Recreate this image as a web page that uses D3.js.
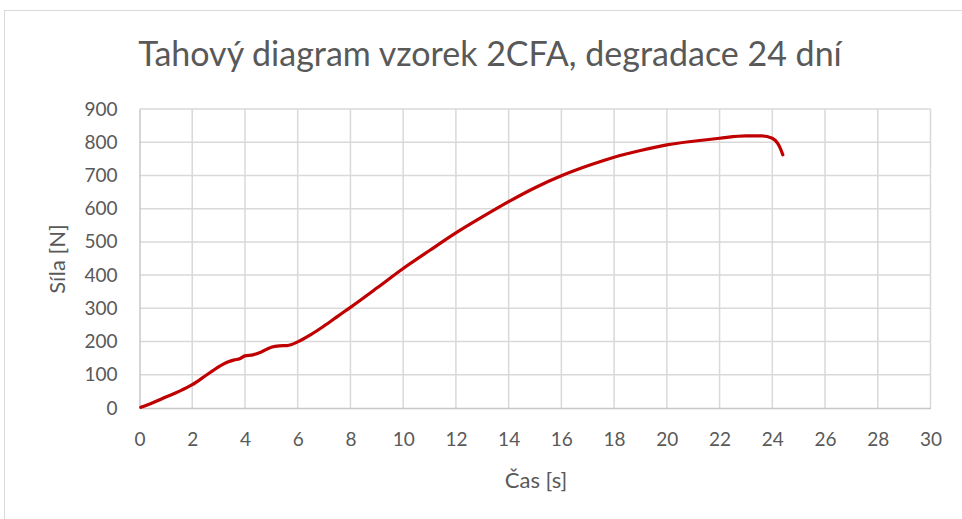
<!DOCTYPE html>
<html>
<head>
<meta charset="utf-8">
<script src="https://cdn.jsdelivr.net/npm/d3@7"></script>
<style>
  html, body { margin: 0; padding: 0; background: #fff; }
  svg { display: block; }
  text { font-family: Lato, "Open Sans", sans-serif; fill: #595959; }
</style>
</head>
<body>
<svg id="chart" width="962" height="519"></svg>
<script>
// Tensile test record: time [s] vs. force [N]
const time = [0.05, 0.5, 1, 1.5, 2, 2.5, 3, 3.3, 3.6, 3.8, 4, 4.3, 4.6, 5, 5.3, 5.6, 6, 6.5, 7, 7.5, 8, 9, 10, 11, 12, 13, 14, 15, 16, 17, 18, 19, 20, 21, 22, 23, 23.6, 24, 24.2, 24.3, 24.4];
const force = [2, 16, 33, 50, 70, 97, 124, 137, 145, 148, 157, 160, 168, 183, 187, 188, 199, 221, 247, 275, 303, 361, 420, 474, 527, 575, 621, 663, 699, 729, 755, 775, 792, 803, 812, 819, 819, 812, 797, 782, 762];
const xTicks = d3.range(0, 31, 2);
const yTicks = d3.range(0, 901, 100);

const titleText = "Tahový diagram vzorek 2CFA, degradace 24 dní";
const xTitle = "Čas [s]";
const yTitle = "Síla [N]";

const svg = d3.select("#chart");
const plot = { left: 139.5, right: 930.5, top: 109, bottom: 408 };

// chart frame
svg.append("rect")
  .attr("x", 4.5).attr("y", 10.5)
  .attr("width", 970).attr("height", 520)
  .attr("fill", "#fff").attr("stroke", "#d9d9d9").attr("stroke-width", 1);

const x = d3.scaleLinear().domain([0, 30]).range([plot.left, plot.right]);
const y = d3.scaleLinear().domain([0, 900]).range([plot.bottom, plot.top]);

// gridlines
const grid = svg.append("g");
grid.selectAll(".vg").data(xTicks.slice(1)).join("line")
  .attr("x1", d => x(d)).attr("x2", d => x(d))
  .attr("y1", plot.top).attr("y2", plot.bottom)
  .attr("stroke", "#d9d9d9").attr("stroke-width", 1.5);
grid.selectAll(".hg").data(yTicks.slice(1)).join("line")
  .attr("x1", plot.left).attr("x2", plot.right)
  .attr("y1", d => y(d)).attr("y2", d => y(d))
  .attr("stroke", "#d9d9d9").attr("stroke-width", 1.5);

// axes
const xAxis = svg.append("g")
  .attr("transform", `translate(0,${plot.bottom})`)
  .call(d3.axisBottom(x).tickValues(xTicks).tickSize(0).tickPadding(25));
const yAxis = svg.append("g")
  .attr("transform", `translate(${plot.left},0)`)
  .call(d3.axisLeft(y).tickValues(yTicks).tickSize(0).tickPadding(22));
[xAxis, yAxis].forEach(g => {
  g.select(".domain").attr("stroke", "#c8c8c8").attr("stroke-width", 1.5);
  g.selectAll("text").style("font-size", "19px").style("fill", "#595959")
    .style("font-family", "Lato, 'Open Sans', sans-serif");
});

// data line
const line = d3.line()
  .x((d, i) => x(time[i]))
  .y(d => y(d))
  .curve(d3.curveMonotoneX);
svg.append("path")
  .datum(force)
  .attr("d", line)
  .attr("fill", "none")
  .attr("stroke", "#c00000")
  .attr("stroke-width", 3.2)
  .attr("stroke-linecap", "round")
  .attr("stroke-linejoin", "round");

// titles
svg.append("text")
  .attr("x", 490).attr("y", 66)
  .attr("text-anchor", "middle")
  .style("font-size", "34px")
  .text(titleText);
svg.append("text")
  .attr("x", 536).attr("y", 488)
  .attr("text-anchor", "middle")
  .style("font-size", "22px")
  .text(xTitle);
svg.append("text")
  .attr("transform", "translate(65,259) rotate(-90)")
  .attr("text-anchor", "middle")
  .style("font-size", "22px")
  .text(yTitle);
</script>
</body>
</html>
